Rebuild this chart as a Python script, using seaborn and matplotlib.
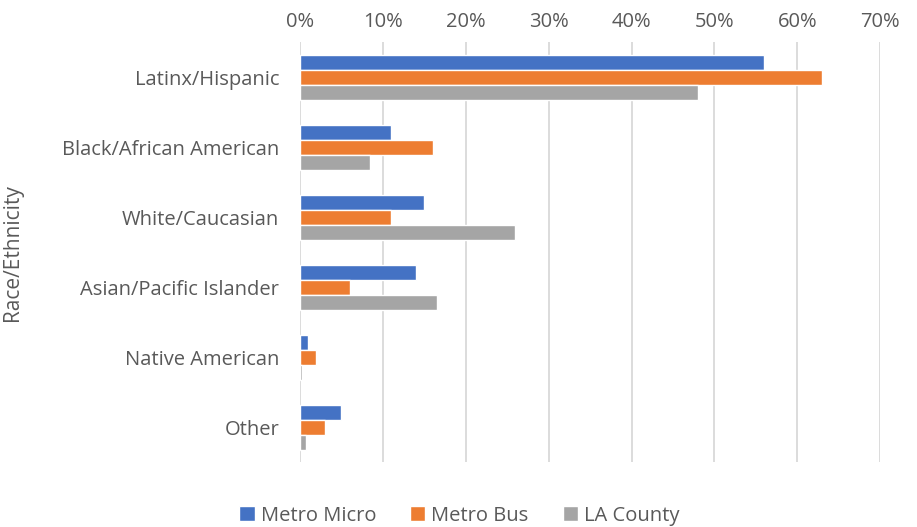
import pandas as pd
import matplotlib
matplotlib.use("Agg")
import matplotlib.pyplot as plt
import seaborn as sns
from matplotlib.ticker import PercentFormatter

# Valores (%)
categorias = ["Latinx/Hispanic", "Black/African American", "White/Caucasian",
              "Asian/Pacific Islander", "Native American", "Other"]
series = ["Metro Micro", "Metro Bus", "LA County"]
metro_micro = [56, 11, 15, 14, 1, 5]
metro_bus = [63, 16, 11, 6, 2, 3]
la_county = [48, 8.4, 26, 16.5, 0.2, 0.8]
cores = ["#4472C4", "#ED7D31", "#A5A5A5"]

df = pd.DataFrame({
    "categoria": categorias * 3,
    "serie": [s for s in series for _ in categorias],
    "valor": metro_micro + metro_bus + la_county,
})

sns.set_style("white")
plt.rcParams["font.family"] = ["Open Sans", "DejaVu Sans"]

fig = plt.figure(figsize=(9.17, 5.27), dpi=100)
ax = fig.add_axes([0.327, 0.123, 0.633, 0.797])

sns.barplot(data=df, y="categoria", x="valor", hue="serie", order=categorias,
            hue_order=series, palette=cores, width=0.64, orient="h",
            saturation=1, ax=ax)

ax.set_xlim(0, 70)
ax.set_xticks(range(0, 71, 10))
ax.xaxis.set_major_formatter(PercentFormatter(decimals=0))
ax.xaxis.tick_top()
ax.tick_params(axis="both", length=0, labelsize=14.5, colors="#595959")
ax.tick_params(axis="x", pad=7)
ax.tick_params(axis="y", pad=15)
ax.grid(axis="x", color="#d9d9d9", linewidth=1.3)
ax.set_axisbelow(True)
for s in ax.spines.values():
    s.set_visible(False)

ax.set_xlabel("")
ax.set_ylabel("Race/Ethnicity", fontsize=15, color="#595959")
ax.yaxis.set_label_coords(-0.477, 0.5)

ax.legend(loc="upper center", bbox_to_anchor=(0.275, -0.06), ncol=3,
          frameon=False, fontsize=14.5, handlelength=0.75, handleheight=0.75,
          columnspacing=1.7, handletextpad=0.3, labelcolor="#595959")

fig.savefig("out.png", dpi=100)
